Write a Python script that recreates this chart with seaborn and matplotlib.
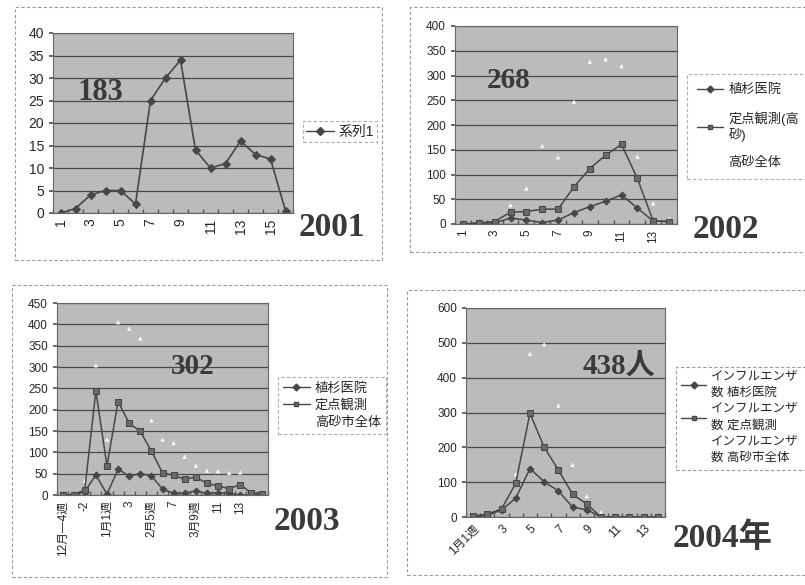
import matplotlib
matplotlib.use('Agg')
import matplotlib.pyplot as plt
from matplotlib.lines import Line2D
from matplotlib.patches import Rectangle
import numpy as np
import seaborn as sns

# ---- data ----
# 2001 (one series)
cases_2001 = [0, 1, 4, 5, 5, 2, 25, 30, 34, 14, 10, 11, 16, 13, 12, 0.5]
ticks_2001 = ['1', '3', '5', '7', '9', '11', '13', '15']

# 2002
ueki_2002 = [0, 2, 2, 12, 8, 3, 8, 23, 35, 46, 59, 32, 6, 5]
teiten_2002 = [0, 2, 5, 24, 25, 30, 30, 75, 112, 139, 161, 92, 6, 5]
takasago_2002 = [2, 3, 5, 38, 72, 158, 135, 247, 328, 333, 319, 136, 42, 11]
ticks_2002 = ['1', '3', '5', '7', '9', '11', '13']

# 2003
ueki_2003 = [0, 0, 8, 47, 2, 60, 45, 50, 45, 14, 4, 4, 10, 4, 5, 4, 0, 0, 0]
teiten_2003 = [0, 0, 12, 244, 68, 219, 168, 149, 103, 52, 46, 37, 42, 27, 21, 15, 24, 5, 3]
takasago_2003 = [0, 0, 33, 304, 130, 405, 390, 367, 175, 130, 122, 90, 69, 57, 56, 52, 53, 4, 0]
ticks_2003 = ['12月—4週', '-2', '1月1週', '3', '2月5週', '7', '3月9週', '11', '13', '']

# 2004
ueki_2004 = [0, 5, 20, 54, 139, 101, 75, 28, 21, 0, 0, 0, 0, 0]
teiten_2004 = [3, 8, 23, 97, 298, 200, 135, 65, 37, 0, 0, 0, 0, 0]
takasago_2004 = [3, 12, 24, 123, 469, 496, 320, 150, 60, 14, 5, 3, 5, 3]
ticks_2004 = ['1月1週', '3', '5', '7', '9', '11', '13']

legend_2002 = ['植杉医院', '定点観測(高\n砂)', '高砂全体']
legend_2003 = ['植杉医院', '定点観測', '高砂市全体']
legend_2004 = ['インフルエンザ\n数 植杉医院', 'インフルエンザ\n数 定点観測', 'インフルエンザ\n数 高砂市全体']

sns.set_theme(style='white')
plt.rcParams['font.family'] = ['Liberation Sans', 'Noto Sans CJK JP']

W, H = 805, 585
fig = plt.figure(figsize=(W / 100, H / 100), dpi=100)
fig.patch.set_facecolor('white')

PLOT_BG = '#bbbbbb'
GRID = '#4a4a4a'
LINE = '#474747'
SERIF = ['Liberation Serif', 'Noto Sans CJK JP']
DASH = (0, (3, 2))


def px_axes(x0, y0, x1, y1):
    return fig.add_axes([x0 / W, 1 - y1 / H, (x1 - x0) / W, (y1 - y0) / H])


def frame(x0, y0, x1, y1):
    fig.patches.append(Rectangle((x0 / W, 1 - y1 / H), (x1 - x0) / W, (y1 - y0) / H,
                                 transform=fig.transFigure, fill=False,
                                 edgecolor='#9a9a9a', lw=0.8, ls=DASH))


def style_axes(ax, n, ymax, ystep, labels, rot, fs):
    ax.set_facecolor(PLOT_BG)
    ax.set_xlim(-0.5, n - 0.5)
    ax.set_ylim(0, ymax)
    ax.set_yticks(np.arange(0, ymax + 1, ystep))
    ax.yaxis.grid(True, color=GRID, lw=0.9)
    ax.xaxis.grid(False)
    ax.set_axisbelow(True)
    pos = list(range(0, n, 2))[:len(labels)]
    ax.set_xticks(pos)
    if rot == 45:
        ax.set_xticklabels(labels, rotation=45, ha='right', rotation_mode='anchor', fontsize=fs)
    else:
        ax.set_xticklabels(labels, rotation=90, ha='center', va='top', fontsize=fs)
    ax.set_xticks(np.arange(-0.5, n, 1), minor=True)
    ax.tick_params(axis='x', which='major', length=0, pad=4)
    ax.tick_params(axis='x', which='minor', length=3, direction='in', color='#555555', bottom=True)
    ax.tick_params(axis='y', length=3, direction='out', color='#555555', left=True, labelsize=fs)
    for s in ax.spines.values():
        s.set_color('#666666')
        s.set_linewidth(0.8)
    ax.set_xlabel('')
    ax.set_ylabel('')


def draw_series(ax, ueki, teiten, takasago):
    x = np.arange(len(ueki))
    sns.lineplot(x=x, y=ueki, ax=ax, color=LINE, lw=1.1, marker='D', markersize=3.5,
                 markeredgecolor=LINE, markerfacecolor=LINE)
    sns.lineplot(x=x, y=teiten, ax=ax, color=LINE, lw=1.1, marker='s', markersize=4,
                 markeredgecolor=LINE, markerfacecolor='#6a6a6a')
    sns.scatterplot(x=x, y=takasago, ax=ax, color='white', marker='^', s=10,
                    edgecolor='none', alpha=0.9, zorder=1)


def make_legend(ax, labels, x0, y0, fs, spacing, framed=True, pad=0.4, linesp=None):
    handles = [Line2D([], [], color=LINE, lw=1, marker='D', markersize=3.5),
               Line2D([], [], color=LINE, lw=1, marker='s', markersize=3.5, markerfacecolor='#6a6a6a'),
               Line2D([], [], color='white', lw=1)]
    leg = ax.legend(handles, labels, loc='upper left', bbox_to_anchor=(x0 / W, 1 - y0 / H),
                    bbox_transform=fig.transFigure, frameon=framed, fancybox=False,
                    edgecolor='#9a9a9a', fontsize=fs, handlelength=2.0, handletextpad=0.4,
                    labelspacing=spacing, borderpad=pad, borderaxespad=0)
    if linesp is not None:
        for t in leg.get_texts():
            t.set_linespacing(linesp)
    if framed:
        leg.get_frame().set_linewidth(0.8)
        leg.get_frame().set_linestyle(DASH)
    return leg


# ---- outer chart frames ----
frame(15, 7, 382, 260)
frame(410, 7, 830, 252)
frame(12, 285, 387, 577)
frame(407, 290, 830, 575)

# ---- 2001 ----
ax1 = px_axes(53, 33, 293, 213)
x1 = np.arange(len(cases_2001))
sns.lineplot(x=x1, y=cases_2001, ax=ax1, color=LINE, lw=1.2, marker='D', markersize=4,
             markeredgecolor=LINE, markerfacecolor=LINE)
style_axes(ax1, len(cases_2001), 40, 5, ticks_2001, 90, 10)
h1 = [Line2D([], [], color=LINE, lw=1, marker='D', markersize=4)]
leg1 = ax1.legend(h1, ['系列1'], loc='upper left', bbox_to_anchor=(303 / W, 1 - 121 / H),
                  bbox_transform=fig.transFigure, frameon=True, fancybox=False,
                  edgecolor='#9a9a9a', fontsize=10, handlelength=2.0, handletextpad=0.3,
                  borderpad=0.25, borderaxespad=0)
leg1.get_frame().set_linewidth(0.8)
leg1.get_frame().set_linestyle(DASH)

# ---- 2002 ----
ax2 = px_axes(455, 26, 677, 224)
draw_series(ax2, ueki_2002, teiten_2002, takasago_2002)
style_axes(ax2, len(ueki_2002), 400, 50, ticks_2002, 90, 8.5)
make_legend(ax2, legend_2002, 687, 74, 9.5, 1.15, pad=0.75)

# ---- 2003 ----
ax3 = px_axes(57, 303, 268, 495)
draw_series(ax3, ueki_2003, teiten_2003, takasago_2003)
style_axes(ax3, len(ueki_2003), 450, 50, ticks_2003, 90, 8.5)
make_legend(ax3, legend_2003, 278, 377, 9.5, 0.35)

# ---- 2004 ----
ax4 = px_axes(466, 308, 665, 517)
draw_series(ax4, ueki_2004, teiten_2004, takasago_2004)
style_axes(ax4, len(ueki_2004), 600, 100, ticks_2004, 45, 8.5)
frame(676, 367, 830, 470)
make_legend(ax4, legend_2004, 676, 366, 9, 0.35, framed=False, linesp=1.45)

# ---- large annotations ----
big = dict(fontfamily=SERIF, fontweight='bold', color='#3a3a3a', ha='center', va='center')
fig.text(100 / W, 1 - 93 / H, '183', fontsize=22, **big)
fig.text(332 / W, 1 - 227 / H, '2001', fontsize=24, **big)
fig.text(509 / W, 1 - 80 / H, '268', fontsize=21, **big)
fig.text(726 / W, 1 - 230 / H, '2002', fontsize=24, **big)
fig.text(193 / W, 1 - 367 / H, '302', fontsize=21, **big)
fig.text(307 / W, 1 - 522 / H, '2003', fontsize=24, **big)
fig.text(619 / W, 1 - 366 / H, '438人', fontsize=21, **big)
fig.text(723 / W, 1 - 538 / H, '2004年', fontsize=24, **big)

fig.savefig('out.png', dpi=100)
